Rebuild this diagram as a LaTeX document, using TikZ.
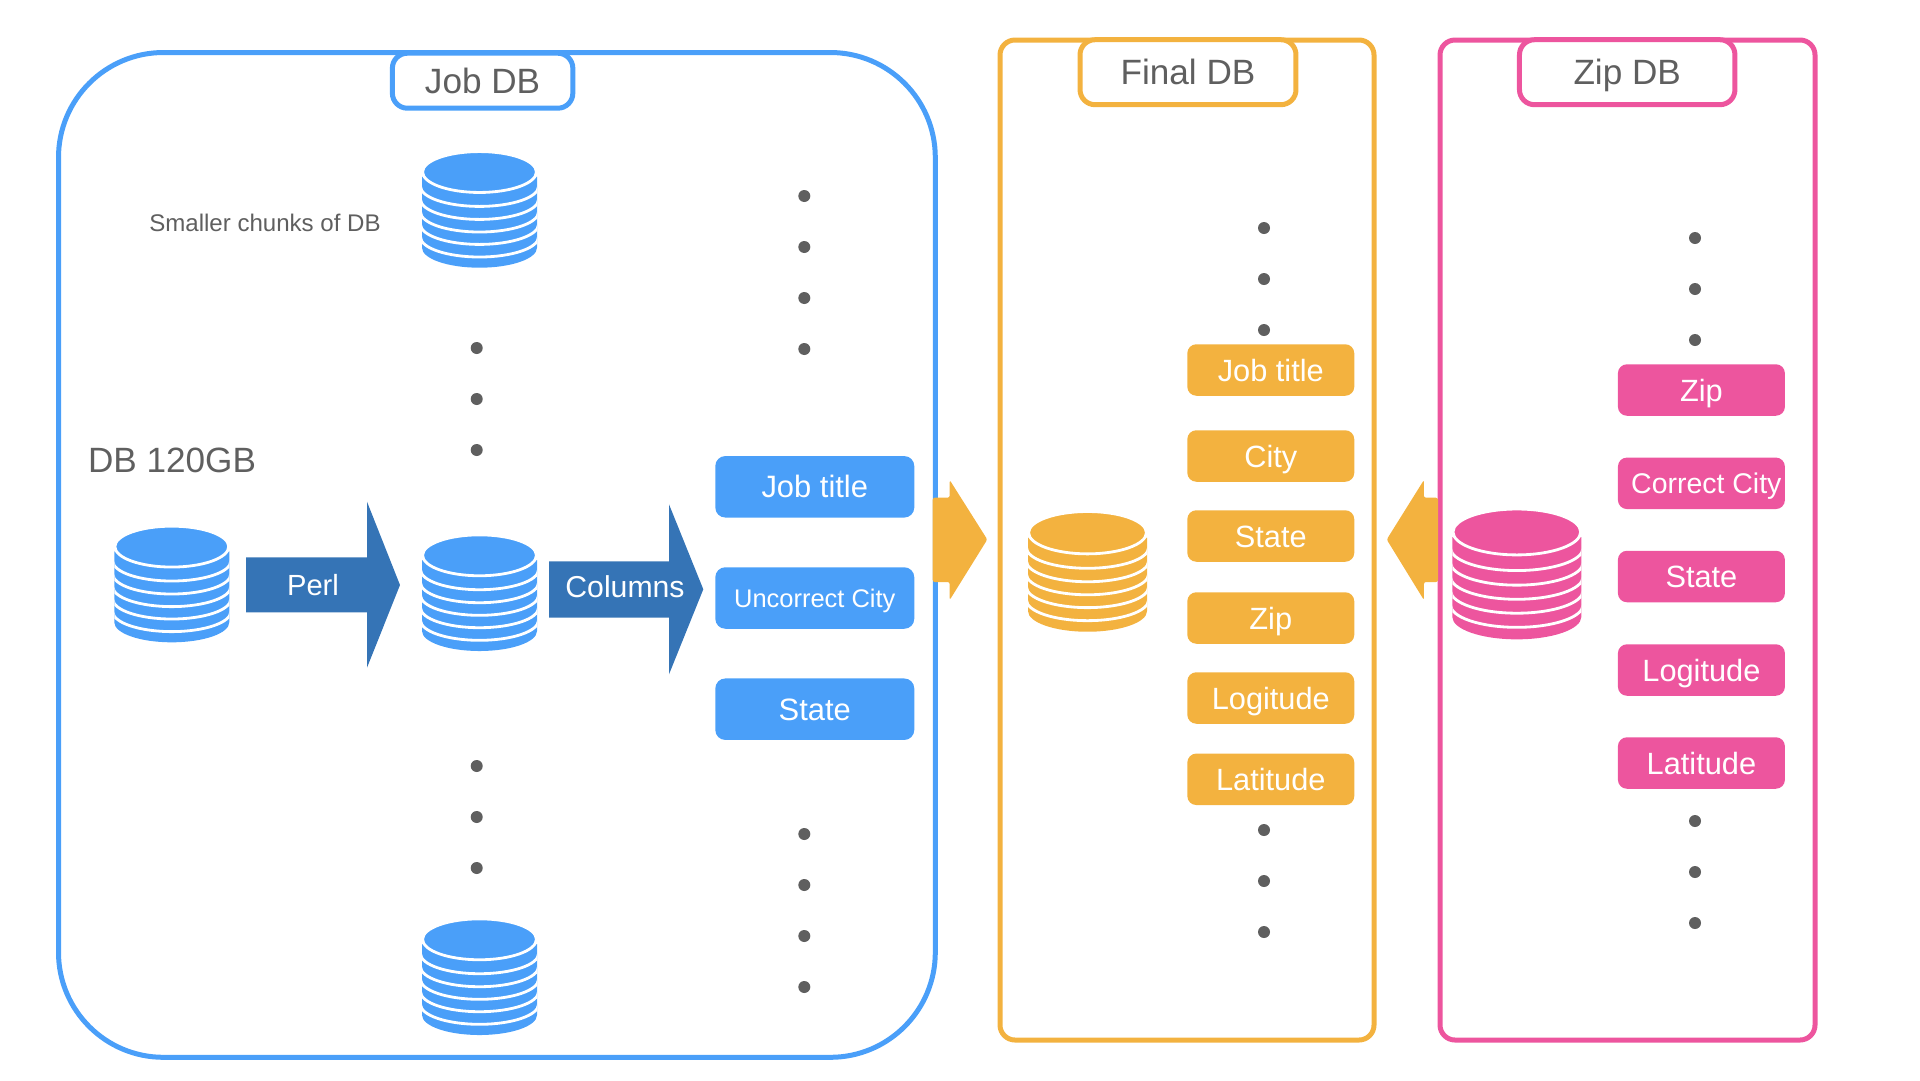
\documentclass[tikz,border=0pt]{standalone}
\usepackage{fontspec}
\setmainfont{Liberation Sans}
\definecolor{jobblue}{HTML}{4A9FF9}
\definecolor{perlblue}{HTML}{3574B6}
\definecolor{finalorange}{HTML}{F3B23F}
\definecolor{zippink}{HTML}{ED559E}
\definecolor{labelgray}{HTML}{5F5F5F}
\newcommand{\dbstack}[4]{%
\begin{scope}[shift={(#1,-#2)},scale=#3]
\begin{scope}
\clip (0,-24) -- (0,-95) arc[start angle=180,end angle=360,x radius=57.5,y radius=20] -- (115,-24) -- cycle;
\fill [#4] (-1,-20) rectangle (116,-116);
\foreach \b in {53.7,66.7,79.3,91.7,104.3}
  \draw [white,line width=1.6pt] (-1.5,-\b+20) arc[start angle=180,end angle=360,x radius=59,y radius=20];
\end{scope}
\draw [white,fill=#4,line width=1.6pt] (57.5,-19.3) ellipse [x radius=56.9,y radius=20.45];
\end{scope}}
\tikzset{
  sized/.style={font=\fontsize{#1}{#1}\selectfont,text height=#1*0.716pt,text depth=0pt},
  frame/.style={line width=0.1cm},
  title/.style={draw=#1,line width=0.1cm,fill=white,rounded corners=0.3cm,text=labelgray,sized=20,inner sep=0pt},
  jobcell/.style={fill=jobblue,text=white,rounded corners=0.2cm,minimum width=3.98cm,minimum height=1.23cm,inner sep=0pt,sized=17.6},
  sidecell/.style={fill=#1,text=white,rounded corners=0.18cm,minimum width=3.34cm,minimum height=1.03cm,inner sep=0pt,sized=17.5},
  note/.style={text=labelgray,inner sep=0pt},
  arrowtext/.style={text=white,inner sep=0pt},
  bead/.style={fill=labelgray}
}
\begin{document}
\begin{tikzpicture}[x=0.02cm,y=0.02cm]
\useasboundingbox (0,0) rectangle (1920,-1080);
\draw [frame,jobblue,rounded corners=2.1cm] (58.5,-52.5) rectangle (935.3,-1057.3);
\draw [frame,finalorange,rounded corners=0.3cm] (1000,-40) rectangle (1374,-1040);
\draw [frame,zippink,rounded corners=0.3cm] (1440,-40) rectangle (1815,-1040);
\node [title=jobblue,minimum width=3.61cm,minimum height=1.1cm] (jobtitle) at (482.6,-80.7) {Job DB};
\node [title=finalorange,minimum width=4.32cm,minimum height=1.3cm] (finaltitle) at (1188,-72.2) {Final DB};
\node [title=zippink,minimum width=4.31cm,minimum height=1.3cm] (ziptitle) at (1627.2,-72.2) {Zip DB};
\node [note,sized=13.7] (chunks) at (265,-222.7) {Smaller chunks of DB};
\node [note,sized=20] (size) at (172,-460) {DB 120GB};
\dbstack{114.3}{527.3}{1}{jobblue}
\dbstack{422}{536}{1}{jobblue}
\dbstack{422}{152.7}{1}{jobblue}
\dbstack{422}{920}{1}{jobblue}
\dbstack{1028}{512.7}{1.035}{finalorange}
\dbstack{1452.3}{510.3}{1.122}{zippink}
\fill [perlblue] (246,-557.3) -- (367,-557.3) -- (367,-501.7) -- (400,-585) -- (367,-667.7) -- (367,-612.3) -- (246,-612.3) -- cycle;
\node [arrowtext,sized=16.6] (perl) at (313,-585) {Perl};
\fill [perlblue] (549,-561.3) -- (669,-561.3) -- (669,-504.3) -- (703.3,-589.3) -- (669,-674.3) -- (669,-617.7) -- (549,-617.7) -- cycle;
\node [arrowtext,sized=17.2] (columns) at (625,-586.7) {Columns};
\node [jobcell] (jobtitlecell) at (814.8,-486.8) {Job title};
\node [jobcell,sized=14.5] (uncorrect) at (814.8,-598) {Uncorrect City};
\node [jobcell] (jobstate) at (814.8,-709.2) {State};
\fill [finalorange,rounded corners=1.2pt] (932.7,-497.7) -- (949.7,-497.7) -- (949.7,-480) -- (987.3,-539.5) -- (949.7,-600) -- (949.7,-582) -- (932.7,-582) -- cycle;
\fill [finalorange,rounded corners=1.2pt] (1438,-497.7) -- (1423.9,-497.7) -- (1423.9,-480) -- (1386.7,-539.5) -- (1423.9,-600) -- (1423.9,-582) -- (1438,-582) -- cycle;
\node [sidecell=finalorange] (finaljob) at (1270.8,-370) {Job title};
\node [sidecell=finalorange] (finalcity) at (1270.8,-456) {City};
\node [sidecell=finalorange] (finalstate) at (1270.8,-536) {State};
\node [sidecell=finalorange] (finalzip) at (1270.8,-618) {Zip};
\node [sidecell=finalorange] (finallong) at (1270.8,-698) {Logitude};
\node [sidecell=finalorange] (finallat) at (1270.8,-779.3) {Latitude};
\node [sidecell=zippink] (zipzip) at (1701.4,-390) {Zip};
\node [sidecell=zippink,sized=16.2] (zipcity) at (1701.4,-483.3) {\hspace{5.6pt}Correct City};
\node [sidecell=zippink] (zipstate) at (1701.4,-576.5) {State};
\node [sidecell=zippink] (ziplong) at (1701.4,-670) {Logitude};
\node [sidecell=zippink] (ziplat) at (1701.4,-763) {Latitude};
\foreach \y in {348,399,450,766,817,868}
  \fill [bead] (476.7,-\y) circle (6);
\foreach \y in {196,247,298,349,834,885,936,987}
  \fill [bead] (804.3,-\y) circle (6);
\foreach \y in {228,279,330,830,881,932}
  \fill [bead] (1264,-\y) circle (6);
\foreach \y in {238,289,340,821,872,923}
  \fill [bead] (1695,-\y) circle (6);
\end{tikzpicture}
\end{document}
